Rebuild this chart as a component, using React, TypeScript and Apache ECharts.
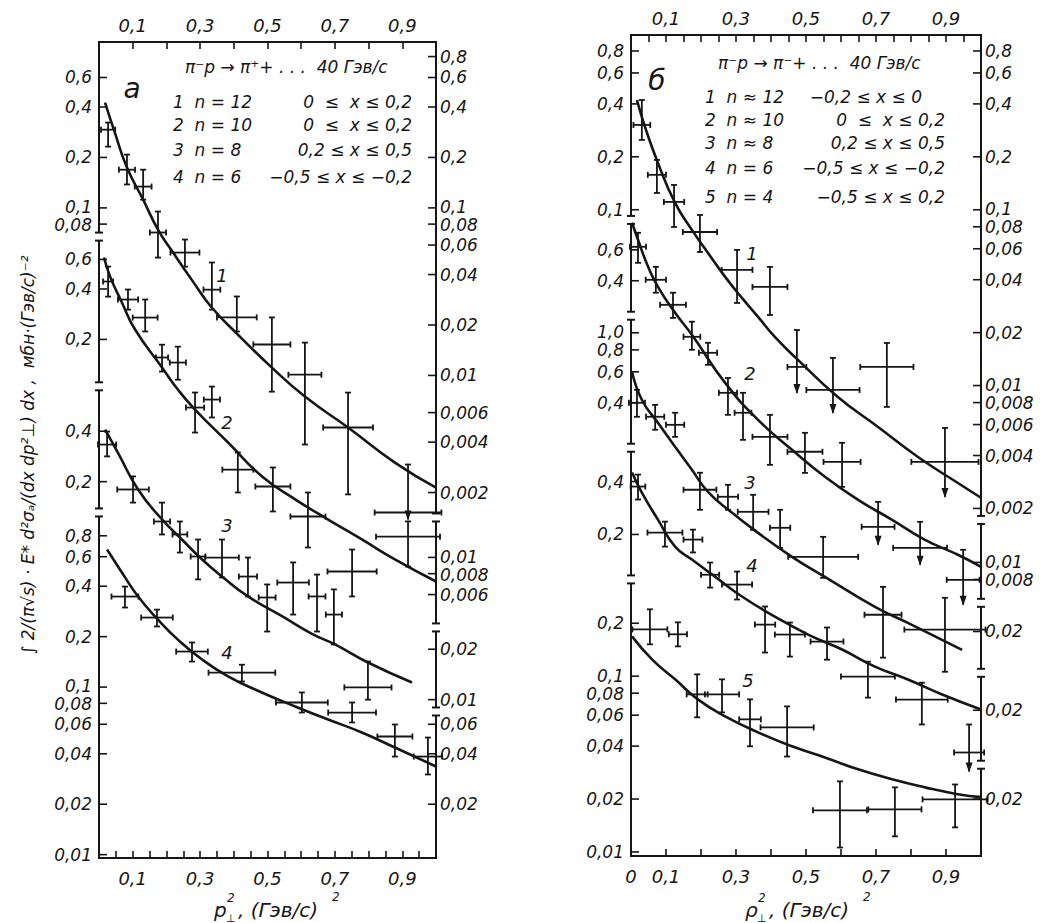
import { useEffect, useRef } from 'react';
import * as echarts from 'echarts';

// ---------- DATA (panel а: π⁻p → π⁺ + ...) ----------
// point rows: [x, xHalfWidth, value, valueLow, valueHigh, upperLimitArrow]
const A1_POINTS = [
  [0.027, 0.021, 0.293, 0.232, 0.323],
  [0.083, 0.024, 0.169, 0.138, 0.208],
  [0.131, 0.025, 0.134, 0.112, 0.169],
  [0.175, 0.024, 0.0713, 0.0505, 0.0951],
  [0.255, 0.043, 0.0541, 0.0446, 0.0647],
  [0.335, 0.025, 0.0325, 0.0247, 0.0472],
  [0.409, 0.059, 0.0222, 0.0183, 0.0296],
  [0.513, 0.055, 0.0153, 0.008, 0.0222],
  [0.611, 0.049, 0.0101, 0.00387, 0.0157],
  [0.739, 0.074, 0.00489, 0.00195, 0.0079],
  [0.917, 0.099, 0.00152, 0.00138, 0.00294, 1],
];
const A1_CURVE = [[0.018, 0.425], [0.047, 0.281], [0.083, 0.174], [0.131, 0.112], [0.175, 0.0742], [0.22, 0.0541], [0.279, 0.0363], [0.332, 0.0258], [0.412, 0.01754], [0.513, 0.01114], [0.611, 0.00748], [0.739, 0.00489], [0.878, 0.00302], [1.0, 0.00214]];

const A2_POINTS = [
  [0.027, 0.015, 0.443, 0.36, 0.544],
  [0.086, 0.03, 0.346, 0.301, 0.397],
  [0.137, 0.037, 0.27, 0.223, 0.346],
  [0.187, 0.018, 0.156, 0.1286, 0.186],
  [0.234, 0.024, 0.1455, 0.115, 0.181],
  [0.285, 0.027, 0.0784, 0.0556, 0.0964],
  [0.335, 0.024, 0.0875, 0.0684, 0.1046],
  [0.412, 0.046, 0.0334, 0.0244, 0.0423],
  [0.516, 0.052, 0.0265, 0.0188, 0.0344],
  [0.62, 0.052, 0.01754, 0.01146, 0.0244],
  [0.917, 0.095, 0.0133, 0.00883, 0.0164],
];
const A2_CURVE = [[0.015, 0.616], [0.033, 0.474], [0.068, 0.332], [0.107, 0.229], [0.187, 0.136], [0.234, 0.1004], [0.285, 0.0763], [0.383, 0.0485], [0.484, 0.0304], [0.582, 0.0222], [0.68, 0.01683], [0.78, 0.0128], [0.878, 0.00972], [1.0, 0.00718]];

const A3_POINTS = [
  [0.024, 0.027, 0.333, 0.283, 0.398],
  [0.101, 0.047, 0.1796, 0.15, 0.215],
  [0.187, 0.024, 0.1157, 0.0968, 0.15],
  [0.24, 0.022, 0.0968, 0.0755, 0.1157],
  [0.294, 0.022, 0.0715, 0.0522, 0.0903],
  [0.365, 0.05, 0.0705, 0.0536, 0.0903],
  [0.442, 0.027, 0.0543, 0.0413, 0.0705],
  [0.499, 0.025, 0.0407, 0.0255, 0.0487],
  [0.576, 0.047, 0.05, 0.0322, 0.0659],
  [0.647, 0.025, 0.0413, 0.0255, 0.0558],
  [0.697, 0.024, 0.0322, 0.02135, 0.0455],
  [0.751, 0.073, 0.0582, 0.0413, 0.0787],
  [0.798, 0.07, 0.01183, 0.01, 0.0169],
];
const A3_CURVE = [[0.018, 0.409], [0.056, 0.2985], [0.116, 0.1795], [0.187, 0.119], [0.246, 0.0903], [0.306, 0.0686], [0.365, 0.0543], [0.442, 0.0413], [0.543, 0.0315], [0.632, 0.0247], [0.7, 0.02135], [0.798, 0.01667], [0.929, 0.01267]];

const A4_POINTS = [
  [0.077, 0.04, 0.347, 0.2985, 0.398],
  [0.172, 0.047, 0.26, 0.23, 0.29],
  [0.276, 0.047, 0.163, 0.142, 0.1846],
  [0.424, 0.099, 0.122, 0.108, 0.136],
  [0.602, 0.077, 0.0809, 0.0705, 0.0929],
  [0.751, 0.071, 0.0705, 0.0615, 0.0809],
  [0.878, 0.052, 0.0507, 0.0385, 0.0598],
  [0.976, 0.042, 0.0385, 0.0301, 0.05],
];
const A4_CURVE = [[0.024, 0.662], [0.068, 0.483], [0.116, 0.347], [0.175, 0.253], [0.234, 0.192], [0.306, 0.146], [0.383, 0.1157], [0.463, 0.0968], [0.582, 0.0766], [0.68, 0.0641], [0.78, 0.0536], [0.878, 0.0436], [1.0, 0.0336]];

// ---------- DATA (panel б: π⁻p → π⁻ + ...) ----------
const B1_POINTS = [
  [0.031, 0.024, 0.3037, 0.2495, 0.421],
  [0.074, 0.026, 0.158, 0.1246, 0.192],
  [0.123, 0.029, 0.1108, 0.0798, 0.1384],
  [0.197, 0.049, 0.0747, 0.0575, 0.0934],
  [0.303, 0.044, 0.0455, 0.0295, 0.0591],
  [0.397, 0.05, 0.0364, 0.0252, 0.0473],
  [0.474, 0.027, 0.01276, 0.00908, 0.0207, 1],
  [0.577, 0.076, 0.00944, 0.00699, 0.01436, 1],
  [0.731, 0.076, 0.01276, 0.00756, 0.01747],
  [0.897, 0.096, 0.00368, 0.00232, 0.00574, 1],
];
const B1_CURVE = [[0.017, 0.421], [0.04, 0.296], [0.077, 0.1846], [0.126, 0.1093], [0.174, 0.0768], [0.22, 0.0568], [0.269, 0.0415], [0.317, 0.0315], [0.363, 0.0246], [0.411, 0.0189], [0.477, 0.014], [0.591, 0.00861], [0.706, 0.00581], [0.82, 0.00392], [0.934, 0.00279], [1.0, 0.0023]];

const B2_POINTS = [
  [0.02, 0.023, 0.624, 0.506, 0.75],
  [0.071, 0.029, 0.405, 0.342, 0.48],
  [0.12, 0.037, 0.292, 0.246, 0.342],
  [0.174, 0.024, 0.192, 0.162, 0.234],
  [0.22, 0.026, 0.1557, 0.133, 0.1775],
  [0.277, 0.026, 0.0922, 0.0691, 0.112],
  [0.32, 0.024, 0.071, 0.0498, 0.0922],
  [0.397, 0.05, 0.0518, 0.0359, 0.0691],
  [0.497, 0.05, 0.0426, 0.0323, 0.0546],
  [0.603, 0.053, 0.0373, 0.0269, 0.0479],
  [0.706, 0.047, 0.01594, 0.01259, 0.0221, 1],
  [0.826, 0.077, 0.0121, 0.0097, 0.01702, 1],
  [0.949, 0.047, 0.00796, 0.00574, 0.0118, 1],
];
const B2_CURVE = [[0.003, 0.855], [0.02, 0.684], [0.049, 0.48], [0.077, 0.3696], [0.126, 0.263], [0.174, 0.197], [0.269, 0.105], [0.363, 0.0647], [0.46, 0.0437], [0.554, 0.0307], [0.649, 0.0227], [0.746, 0.01747], [0.84, 0.01345], [0.934, 0.01105], [1.0, 0.00944]];

const B3_POINTS = [
  [0.017, 0.023, 0.4, 0.333, 0.474],
  [0.069, 0.026, 0.333, 0.281, 0.389],
  [0.126, 0.026, 0.2997, 0.256, 0.351],
  [0.197, 0.047, 0.128, 0.0985, 0.16],
  [0.277, 0.029, 0.1168, 0.0985, 0.1366],
  [0.349, 0.044, 0.0959, 0.0757, 0.1198],
  [0.426, 0.029, 0.0778, 0.0598, 0.0985],
  [0.549, 0.1, 0.0532, 0.0404, 0.0691],
  [0.72, 0.053, 0.0249, 0.0142, 0.0359],
  [0.897, 0.116, 0.0205, 0.0118, 0.0311],
];
const B3_CURVE = [[0.003, 0.6], [0.031, 0.416], [0.077, 0.3076], [0.126, 0.2247], [0.174, 0.1662], [0.22, 0.1246], [0.289, 0.0946], [0.363, 0.0728], [0.46, 0.0532], [0.554, 0.0409], [0.697, 0.0276], [0.791, 0.0224], [0.946, 0.01573]];

const B4_POINTS = [
  [0.02, 0.021, 0.3745, 0.316, 0.438],
  [0.097, 0.05, 0.205, 0.1706, 0.2366],
  [0.177, 0.027, 0.187, 0.158, 0.213],
  [0.226, 0.026, 0.118, 0.0997, 0.1384],
  [0.303, 0.043, 0.1037, 0.0853, 0.123],
  [0.383, 0.029, 0.0614, 0.0426, 0.0778],
  [0.454, 0.043, 0.0539, 0.0404, 0.0631],
  [0.56, 0.047, 0.0492, 0.0388, 0.0591],
  [0.677, 0.077, 0.0311, 0.0236, 0.0378],
  [0.831, 0.074, 0.023, 0.0166, 0.0287],
  [0.966, 0.043, 0.0115, 0.00896, 0.0166, 1],
];
const B4_CURVE = [[0.003, 0.45], [0.031, 0.346], [0.077, 0.243], [0.126, 0.1706], [0.174, 0.144], [0.24, 0.1151], [0.317, 0.0887], [0.411, 0.0682], [0.506, 0.0539], [0.603, 0.0443], [0.697, 0.0354], [0.791, 0.0299], [0.889, 0.0246], [1.0, 0.0202]];

const B5_POINTS = [
  [0.054, 0.05, 0.1846, 0.1517, 0.24],
  [0.134, 0.026, 0.173, 0.1477, 0.2023],
  [0.189, 0.03, 0.0788, 0.0583, 0.1024],
  [0.26, 0.049, 0.0788, 0.0622, 0.0959],
  [0.34, 0.031, 0.0568, 0.0399, 0.0738],
  [0.446, 0.076, 0.0511, 0.0349, 0.0673],
  [0.597, 0.077, 0.01725, 0.0106, 0.0252],
  [0.754, 0.076, 0.01747, 0.01227, 0.0233],
  [0.926, 0.093, 0.0199, 0.0138, 0.0242],
];
const B5_CURVE = [[0.003, 0.1684], [0.06, 0.1246], [0.126, 0.0959], [0.191, 0.0738], [0.269, 0.0591], [0.363, 0.0479], [0.46, 0.0399], [0.554, 0.0345], [0.649, 0.0295], [0.746, 0.0259], [0.84, 0.0233], [0.934, 0.0213], [1.0, 0.0205]];

// ---------- stacked log scales (decade offsets of each curve's scale) ----------
const A_SHIFT = [0, -1.086, -1.935, -2.86];
const B_SHIFT = [0, -1.006, -1.7, -2.148, -2.653];

// tick labels of each curve's scale, left and right edges
const A_LEFT_TICKS = [[0.6, 0.4, 0.2, 0.1, 0.08], [0.6, 0.4, 0.2], [0.4, 0.2], [0.8, 0.6, 0.4, 0.2, 0.1, 0.08, 0.06, 0.04, 0.02, 0.01]];
const A_RIGHT_TICKS = [[0.8, 0.6, 0.4, 0.2, 0.1, 0.08, 0.06, 0.04, 0.02, 0.01, 0.006, 0.004, 0.002], [0.01, 0.008, 0.006], [0.02, 0.01], [0.06, 0.04, 0.02]];
const B_LEFT_TICKS = [[0.8, 0.6, 0.4, 0.2, 0.1], [0.6, 0.4], [1.0, 0.8, 0.6, 0.4], [0.4, 0.2], [0.2, 0.1, 0.08, 0.06, 0.04, 0.02, 0.01]];
const B_RIGHT_TICKS = [[0.8, 0.6, 0.4, 0.2, 0.1, 0.08, 0.06, 0.04, 0.02, 0.01, 0.008, 0.006, 0.004, 0.002], [0.01, 0.008], [0.02], [0.02], [0.02]];

// axis breaks: [curve scale index, value on that scale]
const A_LEFT_BREAKS = [[0, 0.0674], [1, 0.105], [2, 0.131]];
const A_RIGHT_BREAKS = [[0, 0.00142], [1, 0.00382], [2, 0.0085]];
const B_LEFT_BREAKS = [[0, 0.0875], [1, 0.253], [2, 0.222], [3, 0.111]];
const B_RIGHT_BREAKS = [[0, 0.00172], [1, 0.00589], [2, 0.01164], [3, 0.0098]];

const A_TITLE = 'π⁻p → π⁺+ . . .  40 Гэв/с';
const B_TITLE = 'π⁻p → π⁻+ . . .  40 Гэв/с';
const A_LEGEND_N = ['1  n = 12', '2  n = 10', '3  n = 8', '4  n = 6'];
const A_LEGEND_X = ['0  ≤  x ≤ 0,2', '0  ≤  x ≤ 0,2', '0,2 ≤ x ≤ 0,5', '−0,5 ≤ x ≤ −0,2'];
const B_LEGEND_N = ['1  n ≈ 12', '2  n ≈ 10', '3  n ≈ 8', '4  n = 6', '5  n = 4'];
const B_LEGEND_X = ['−0,2 ≤ x ≤ 0', '0  ≤  x ≤ 0,2', '0,2 ≤ x ≤ 0,5', '−0,5 ≤ x ≤ −0,2', '−0,5 ≤ x ≤ 0,2'];
const CURVE_NAMES = ['1', '2', '3', '4', '5'];
const Y_TITLE = '∫ 2/(π√s) · E* d²σₐ/(dx dp²⊥) dx ,  мбн·(Гэв/с)⁻²';

const INK = '#161616';
const FONT = '"DejaVu Sans"';
const TICK_FONT = 17;
const MIN_LABEL_GAP = 18;

function fmtTick(v: number): string {
  const s = v >= 1 ? v.toFixed(1) : String(parseFloat(v.toPrecision(2)));
  return s.replace('.', ',');
}

function xLabel(v: number, showZero: boolean): string {
  const t = Math.round(v * 100);
  if (t === 0) return showZero ? '0' : '';
  if (t % 10 === 0 && (t / 10) % 2 === 1) return fmtTick(t / 100);
  return '';
}

function buildPanel(gi: number, cfg: any) {
  const { shifts, curves, points, leftTicks, rightTicks, leftBreaks, rightBreaks, yMin, yMax, top, height } = cfg;
  const U = (k: number, v: number) => Math.log10(v) + shifts[k];
  const xi = gi * 2;
  const series: any[] = [];

  curves.forEach((c: number[][], k: number) => {
    series.push({
      type: 'line', xAxisIndex: xi, yAxisIndex: gi, silent: true, z: 3,
      data: c.map(([x, v]) => [x, U(k, v)]),
      smooth: 0.5, symbol: 'none', showSymbol: false,
      lineStyle: { color: INK, width: 2.6 },
    });
  });

  const crossData: number[][] = [];
  points.forEach((pts: number[][], k: number) =>
    pts.forEach((p) => crossData.push([p[0], U(k, p[2]), p[0] - p[1], p[0] + p[1], U(k, p[3]), U(k, p[4]), p[5] || 0]))
  );
  series.push({
    type: 'custom', xAxisIndex: xi, yAxisIndex: gi, silent: true, z: 4, data: crossData,
    renderItem: (_p: any, api: any) => {
      const x = api.value(0), u = api.value(1);
      const c = api.coord([x, u]);
      const l = api.coord([api.value(2), u]);
      const r = api.coord([api.value(3), u]);
      const b = api.coord([x, api.value(4)]);
      const t = api.coord([x, api.value(5)]);
      const arrow = api.value(6);
      const st = { stroke: INK, lineWidth: 1.8 };
      const cap = 3;
      const ch: any[] = [
        { type: 'line', shape: { x1: l[0], y1: c[1], x2: r[0], y2: c[1] }, style: st },
        { type: 'line', shape: { x1: c[0], y1: t[1], x2: c[0], y2: b[1] }, style: st },
        { type: 'line', shape: { x1: c[0] - cap, y1: t[1], x2: c[0] + cap, y2: t[1] }, style: st },
        { type: 'line', shape: { x1: l[0], y1: c[1] - cap, x2: l[0], y2: c[1] + cap }, style: st },
        { type: 'line', shape: { x1: r[0], y1: c[1] - cap, x2: r[0], y2: c[1] + cap }, style: st },
      ];
      if (arrow) {
        ch.push({ type: 'polygon', shape: { points: [[c[0] - 3.5, b[1] - 9], [c[0] + 3.5, b[1] - 9], [c[0], b[1] + 1]] }, style: { fill: INK } });
      } else {
        ch.push({ type: 'line', shape: { x1: c[0] - cap, y1: b[1], x2: c[0] + cap, y2: b[1] }, style: st });
      }
      return { type: 'group', children: ch };
    },
  });

  // vertical axis segments with breaks
  const segData: number[][] = [];
  const addSegs = (side: number, breaks: number[][]) => {
    const bu = breaks.map(([k, v]) => U(k, v));
    const bounds = [yMax, ...bu, yMin];
    for (let i = 0; i < bounds.length - 1; i++) {
      segData.push([side, bounds[i], bounds[i + 1], i > 0 ? 1 : 0, i < bounds.length - 2 ? 1 : 0]);
    }
  };
  addSegs(0, leftBreaks);
  addSegs(1, rightBreaks);
  series.push({
    type: 'custom', xAxisIndex: xi, yAxisIndex: gi, silent: true, z: 5, data: segData,
    renderItem: (_p: any, api: any) => {
      const side = api.value(0);
      const a = api.coord([side, api.value(1)]);
      const b = api.coord([side, api.value(2)]);
      const gT = api.value(3), gB = api.value(4);
      const st = { stroke: INK, lineWidth: 2 };
      const y1 = a[1] + (gT ? 4 : -1);
      const y2 = b[1] - (gB ? 4 : -1);
      const ch: any[] = [{ type: 'line', shape: { x1: a[0], y1, x2: b[0], y2 }, style: st }];
      if (gT) ch.push({ type: 'line', shape: { x1: a[0] - 4, y1, x2: a[0] + 4, y2: y1 }, style: st });
      if (gB) ch.push({ type: 'line', shape: { x1: b[0] - 4, y1: y2, x2: b[0] + 4, y2 }, style: st });
      return { type: 'group', children: ch };
    },
  });

  // ticks and tick labels of the stacked scales
  const tickData: number[][] = [];
  const tickText: string[] = [];
  leftTicks.forEach((arr: number[], k: number) => arr.forEach((v) => { tickData.push([0, U(k, v)]); tickText.push(fmtTick(v)); }));
  rightTicks.forEach((arr: number[], k: number) => arr.forEach((v) => { tickData.push([1, U(k, v)]); tickText.push(fmtTick(v)); }));

  // small label nudges so stacked labels do not collide
  const D = height / (yMax - yMin);
  const pix = tickData.map(([, u]) => top + (yMax - u) * D);
  const offs = tickData.map(() => 0);
  [0, 1].forEach((side) => {
    const idx = tickData.map((_d, i) => i).filter((i) => tickData[i][0] === side).sort((a, b) => pix[a] - pix[b]);
    const pos = idx.map((i) => pix[i]);
    for (let it = 0; it < 60; it++) {
      for (let j = 0; j < pos.length - 1; j++) {
        const gap = pos[j + 1] - pos[j];
        if (gap < MIN_LABEL_GAP) {
          const d = (MIN_LABEL_GAP - gap) / 2;
          pos[j] -= d;
          pos[j + 1] += d;
        }
      }
    }
    idx.forEach((i, j) => { offs[i] = pos[j] - pix[i]; });
  });

  series.push({
    type: 'custom', xAxisIndex: xi, yAxisIndex: gi, silent: true, z: 5, data: tickData,
    renderItem: (params: any, api: any) => {
      const side = api.value(0);
      const p = api.coord([side, api.value(1)]);
      const dir = side === 0 ? 1 : -1;
      const st = { stroke: INK, lineWidth: 1.6 };
      return {
        type: 'group',
        children: [
          { type: 'line', shape: { x1: p[0], y1: p[1], x2: p[0] + dir * 8, y2: p[1] }, style: st },
          {
            type: 'text', x: side === 0 ? p[0] - 7 : p[0] + 4, y: p[1] + offs[params.dataIndex],
            style: {
              text: tickText[params.dataIndex], fill: INK,
              font: `italic ${TICK_FONT}px ${FONT}`,
              textAlign: side === 0 ? 'right' : 'left', align: side === 0 ? 'right' : 'left',
              textVerticalAlign: 'middle', verticalAlign: 'middle',
            },
          },
        ],
      };
    },
  });
  return series;
}

function xAxisDef(gridIndex: number, position: string, interval: number, showZero: boolean) {
  return {
    gridIndex, type: 'value', position, min: 0, max: 1, interval,
    axisLine: { show: true, onZero: false, lineStyle: { color: INK, width: 2 } },
    axisTick: { show: true, inside: true, length: 7, lineStyle: { color: INK, width: 1.6 } },
    axisLabel: {
      formatter: (v: number) => xLabel(v, showZero), color: INK, fontSize: 18,
      fontStyle: 'italic', fontFamily: 'DejaVu Sans', margin: position === 'top' ? 8 : 11,
    },
    splitLine: { show: false },
  };
}

function txt(x: number, y: number, text: string, size: number, align = 'left', extra: any = {}) {
  return {
    type: 'text', x, y, silent: true, ...extra,
    style: {
      text, fill: INK, font: `italic ${size}px ${FONT}`,
      textAlign: align, align, textVerticalAlign: 'middle', verticalAlign: 'middle',
    },
  };
}

export default function App() {
  const ref = useRef<HTMLDivElement>(null);
  useEffect(() => {
    document.body.style.margin = '0';
    if (!ref.current) return;
    const chart = echarts.init(ref.current, undefined, { renderer: 'svg' });

    const A_GRID = { left: 99, top: 42, width: 337, height: 816 };
    const B_GRID = { left: 631, top: 35, width: 350, height: 821 };
    const A_YMIN = -4.88, A_YMAX = -0.01;
    const B_YMIN = -4.676, B_YMAX = -0.006;

    const series = [
      ...buildPanel(0, {
        shifts: A_SHIFT, curves: [A1_CURVE, A2_CURVE, A3_CURVE, A4_CURVE],
        points: [A1_POINTS, A2_POINTS, A3_POINTS, A4_POINTS],
        leftTicks: A_LEFT_TICKS, rightTicks: A_RIGHT_TICKS,
        leftBreaks: A_LEFT_BREAKS, rightBreaks: A_RIGHT_BREAKS, yMin: A_YMIN, yMax: A_YMAX,
        top: A_GRID.top, height: A_GRID.height,
      }),
      ...buildPanel(1, {
        shifts: B_SHIFT, curves: [B1_CURVE, B2_CURVE, B3_CURVE, B4_CURVE, B5_CURVE],
        points: [B1_POINTS, B2_POINTS, B3_POINTS, B4_POINTS, B5_POINTS],
        leftTicks: B_LEFT_TICKS, rightTicks: B_RIGHT_TICKS,
        leftBreaks: B_LEFT_BREAKS, rightBreaks: B_RIGHT_BREAKS, yMin: B_YMIN, yMax: B_YMAX,
        top: B_GRID.top, height: B_GRID.height,
      }),
    ];

    const graphics: any[] = [];
    // panel а texts
    graphics.push(txt(185, 67, A_TITLE, 17));
    graphics.push(txt(132, 88, 'а', 28, 'center'));
    const aY = [102, 125, 150, 177];
    A_LEGEND_N.forEach((s, i) => graphics.push(txt(173, aY[i], s, 17)));
    A_LEGEND_X.forEach((s, i) => graphics.push(txt(412, aY[i], s, 17, 'right')));
    const aLab = [[222, 275], [227, 422], [227, 525], [227, 652]];
    aLab.forEach(([x, y], i) => graphics.push(txt(x, y, CURVE_NAMES[i], 18, 'center')));
    // panel б texts
    graphics.push(txt(718, 63, B_TITLE, 17));
    graphics.push(txt(657, 80, 'б', 28, 'center'));
    const bY = [97, 120, 143, 168, 197];
    B_LEGEND_N.forEach((s, i) => graphics.push(txt(705, bY[i], s, 17)));
    B_LEGEND_X.forEach((s, i) => graphics.push(txt(i === 0 ? 922 : 945, bY[i], s, 17, 'right')));
    const bLab = [[752, 253], [750, 373], [750, 482], [752, 565], [748, 680]];
    bLab.forEach(([x, y], i) => graphics.push(txt(x, y, CURVE_NAMES[i], 18, 'center')));
    // x-axis names
    const xName = (x0: number, letter: string) => [
      txt(x0, 910, letter, 20),
      txt(x0 + 13, 898, '2', 12),
      txt(x0 + 12, 918, '⊥', 11),
      txt(x0 + 24, 910, ', (Гэв/с)', 20),
      txt(x0 + 118, 897, '2', 12),
    ];
    graphics.push(...xName(214, 'p'));
    graphics.push(...xName(745, 'ρ'));
    // y-axis title
    graphics.push(txt(28, 455, Y_TITLE, 17, 'center', { rotation: Math.PI / 2 }));

    chart.setOption({
      animation: false,
      backgroundColor: '#ffffff',
      grid: [A_GRID, B_GRID],
      xAxis: [
        xAxisDef(0, 'bottom', 0.05, false),
        xAxisDef(0, 'top', 0.1, false),
        xAxisDef(1, 'bottom', 0.1, true),
        xAxisDef(1, 'top', 0.05, false),
      ],
      yAxis: [
        { gridIndex: 0, type: 'value', min: A_YMIN, max: A_YMAX, show: false },
        { gridIndex: 1, type: 'value', min: B_YMIN, max: B_YMAX, show: false },
      ],
      series,
      graphic: graphics,
    });
    return () => chart.dispose();
  }, []);
  return <div ref={ref} style={{ width: 1061, height: 923 }} />;
}
